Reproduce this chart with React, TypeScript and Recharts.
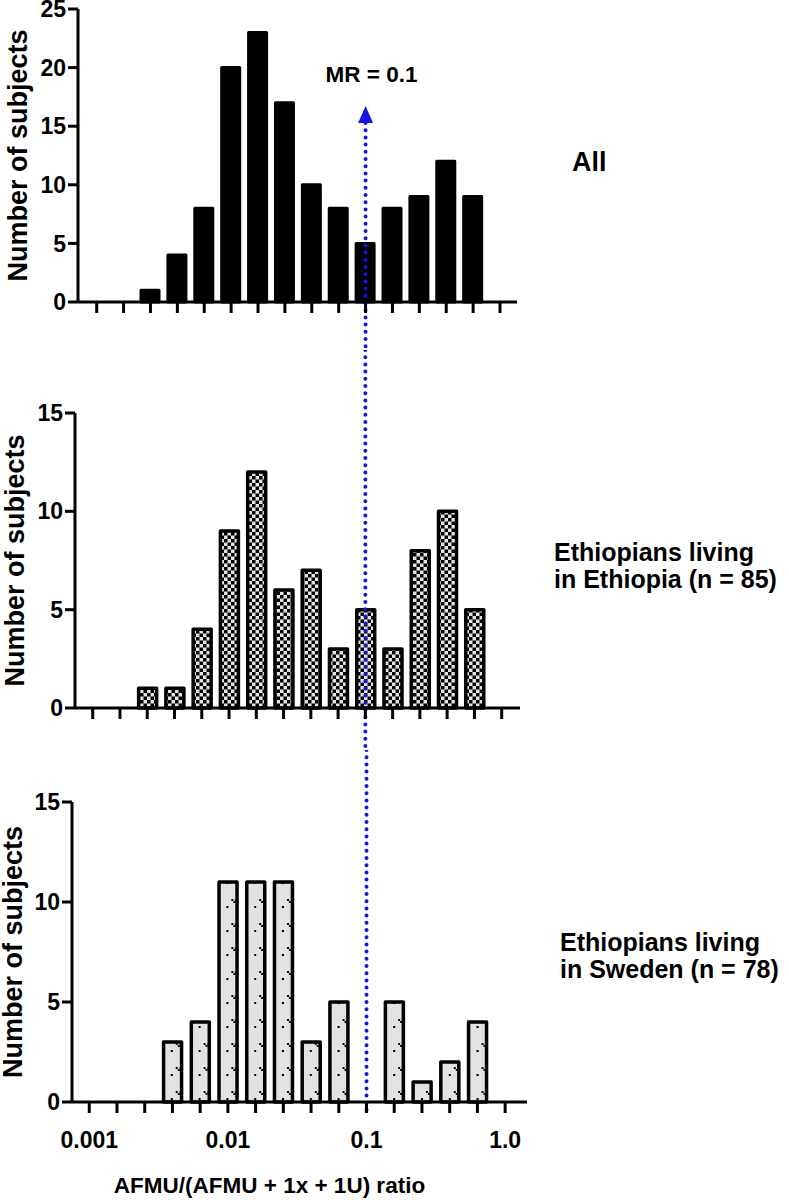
import { Bar, BarChart, Label, ReferenceLine, XAxis, YAxis } from "recharts";

// bin centres (log spaced, 5 per decade)
const BINS = [
  "0.001", "0.0016", "0.0025", "0.004", "0.0063",
  "0.01", "0.016", "0.025", "0.04", "0.063",
  "0.1", "0.16", "0.25", "0.4", "0.63", "1.0",
];
const ALL_COUNTS = [0, 0, 1, 4, 8, 20, 23, 17, 10, 8, 5, 8, 9, 12, 9, 0];
const ETHIOPIA_COUNTS = [0, 0, 1, 1, 4, 9, 12, 6, 7, 3, 5, 3, 8, 10, 5, 0];
const SWEDEN_COUNTS = [0, 0, 0, 3, 4, 11, 11, 11, 3, 5, 0, 5, 1, 2, 4, 0];
const X_TICK_LABELS = ["0.001", "0.01", "0.1", "1.0"];
const Y_TICKS_ALL = [0, 5, 10, 15, 20, 25];
const Y_TICKS_GROUP = [0, 5, 10, 15];
const MR_CUTOFF = "0.1";

const data = BINS.map((bin, i) => ({
  bin,
  all: ALL_COUNTS[i],
  ethiopia: ETHIOPIA_COUNTS[i],
  sweden: SWEDEN_COUNTS[i],
}));

const FONT = '"Liberation Sans", Arial, Helvetica, sans-serif';
const BLUE = "#1414e6";
const axisStyle = { stroke: "#000", strokeWidth: 3 };

function yTitle(baselineX: number) {
  return ({ viewBox }: any) => {
    const cy = viewBox.y + viewBox.height / 2;
    return (
      <text
        x={baselineX}
        y={cy}
        transform={`rotate(-90, ${baselineX}, ${cy})`}
        textAnchor="middle"
        fill="#000"
        style={{ fontFamily: FONT, fontSize: 27, fontWeight: 700 }}
      >
        Number of subjects
      </text>
    );
  };
}

// dotted MR cut-off line; top panel also gets the arrow head and its label
function dottedLine(from: number, to: number, arrow: boolean) {
  return (p: any) => {
    const x = p.x1 ?? p.x;
    return (
      <g>
        <line
          x1={x}
          x2={x}
          y1={from}
          y2={to}
          stroke={BLUE}
          strokeWidth={4}
          strokeDasharray="0 7.2"
          strokeLinecap="round"
        />
        {arrow && (
          <>
            <path d={`M${x - 7.5},${from} L${x},${from - 17} L${x + 7.5},${from} Z`} fill={BLUE} />
            <text
              x={x + 6}
              y={82}
              textAnchor="middle"
              fill="#000"
              style={{ fontFamily: FONT, fontSize: 22.5, fontWeight: 700 }}
            >
              MR = 0.1
            </text>
          </>
        )}
      </g>
    );
  };
}

const noText = () => <g />;

interface PanelProps {
  top: number;
  height: number;
  margin: { top: number; right: number; left: number; bottom: number };
  yWidth: number;
  yMax: number;
  yTicks: number[];
  padL: number;
  padR: number;
  dataKey: string;
  fill: string;
  barStroke: number;
  labelX: number;
  xHeight: number;
  showLabels?: boolean;
  refFrom: number;
  refTo: number;
  arrow?: boolean;
}

function Panel(p: PanelProps) {
  return (
    <div style={{ position: "absolute", left: 0, top: p.top }}>
      <BarChart width={540} height={p.height} data={data} margin={p.margin} barCategoryGap={0}>
        <XAxis
          dataKey="bin"
          interval={0}
          height={p.xHeight}
          padding={{ left: p.padL, right: p.padR }}
          axisLine={axisStyle}
          tickLine={axisStyle}
          tickSize={11}
          tickMargin={19}
          tick={p.showLabels ? { fill: "#000", fontSize: 23, fontWeight: 700, fontFamily: FONT } : noText}
          tickFormatter={(v: string) => (X_TICK_LABELS.includes(v) ? v : "")}
        >
          {p.showLabels && (
            <Label
              content={({ viewBox }: any) => (
                <text
                  x={viewBox.x + viewBox.width / 2 - 30}
                  y={viewBox.y + 91}
                  textAnchor="middle"
                  fill="#000"
                  style={{ fontFamily: FONT, fontSize: 22.5, fontWeight: 700 }}
                >
                  AFMU/(AFMU + 1x + 1U) ratio
                </text>
              )}
            />
          )}
        </XAxis>
        <YAxis
          width={p.yWidth}
          domain={[0, p.yMax]}
          ticks={p.yTicks}
          interval={0}
          axisLine={axisStyle}
          tickLine={axisStyle}
          tickSize={10}
          tickMargin={2}
          tick={{ fill: "#000", fontSize: 23, fontWeight: 700, fontFamily: FONT }}
        >
          <Label content={yTitle(p.labelX)} />
        </YAxis>
        <Bar
          dataKey={p.dataKey}
          barSize={18}
          fill={p.fill}
          stroke="#000"
          strokeWidth={p.barStroke}
          strokeLinejoin="round"
          isAnimationActive={false}
        />
        <ReferenceLine
          x={MR_CUTOFF}
          ifOverflow="visible"
          shape={dottedLine(p.refFrom, p.refTo, !!p.arrow)}
        />
      </BarChart>
    </div>
  );
}

function SideLabel({ top, left, size, lines }: { top: number; left: number; size: number; lines: string[] }) {
  return (
    <div
      style={{
        position: "absolute",
        top,
        left,
        fontFamily: FONT,
        fontWeight: 700,
        fontSize: size,
        lineHeight: "27px",
        color: "#000",
        whiteSpace: "nowrap",
      }}
    >
      {lines.map((l) => (
        <div key={l}>{l}</div>
      ))}
    </div>
  );
}

export default function App() {
  return (
    <div style={{ position: "absolute", left: 0, top: 0, width: 789, height: 1200, background: "#fff" }}>
      <svg width={0} height={0} style={{ position: "absolute" }}>
        <defs>
          <pattern id="checker" width={7} height={7} patternUnits="userSpaceOnUse">
            <rect width={7} height={7} fill="#e4e4e4" />
            <rect width={3.5} height={3.5} fill="#000" />
            <rect x={3.5} y={3.5} width={3.5} height={3.5} fill="#000" />
          </pattern>
          <pattern id="vdots" width={27.8} height={24} patternUnits="userSpaceOnUse">
            <rect width={27.8} height={24} fill="#e2e2e2" />
            <rect x={9} y={5} width={2} height={2} fill="#000" />
            <rect x={13} y={5} width={2} height={2} fill="#000" />
            <rect x={11} y={7} width={2} height={2} fill="#000" />
            <rect x={20} y={16} width={2} height={2} fill="#000" />
            <rect x={4} y={12} width={2} height={2} fill="#000" />
          </pattern>
        </defs>
      </svg>

      <Panel
        top={0}
        height={350}
        margin={{ top: 9, right: 23, left: 0, bottom: 28 }}
        yWidth={78}
        yMax={25}
        yTicks={Y_TICKS_ALL}
        padL={5.25}
        padR={3.55}
        dataKey="all"
        fill="#000"
        barStroke={3}
        labelX={27}
        xHeight={20}
        refFrom={123}
        refTo={350}
        arrow
      />
      <Panel
        top={350}
        height={400}
        margin={{ top: 63, right: 20, left: 0, bottom: 22 }}
        yWidth={75}
        yMax={15}
        yTicks={Y_TICKS_GROUP}
        padL={4.1}
        padR={4.7}
        dataKey="ethiopia"
        fill="url(#checker)"
        barStroke={3.5}
        labelX={24}
        xHeight={20}
        refFrom={0}
        refTo={400}
      />
      <Panel
        top={750}
        height={450}
        margin={{ top: 52, right: 13, left: 0, bottom: 38 }}
        yWidth={72}
        yMax={15}
        yTicks={Y_TICKS_GROUP}
        padL={3.4}
        padR={8}
        dataKey="sweden"
        fill="url(#vdots)"
        barStroke={3.5}
        labelX={22}
        xHeight={60}
        showLabels
        refFrom={0}
        refTo={363}
      />

      <SideLabel top={149} left={572} size={27} lines={["All"]} />
      <SideLabel top={539} left={554} size={25} lines={["Ethiopians living", "in Ethiopia (n = 85)"]} />
      <SideLabel top={929} left={560} size={25} lines={["Ethiopians living", "in Sweden (n = 78)"]} />
    </div>
  );
}
